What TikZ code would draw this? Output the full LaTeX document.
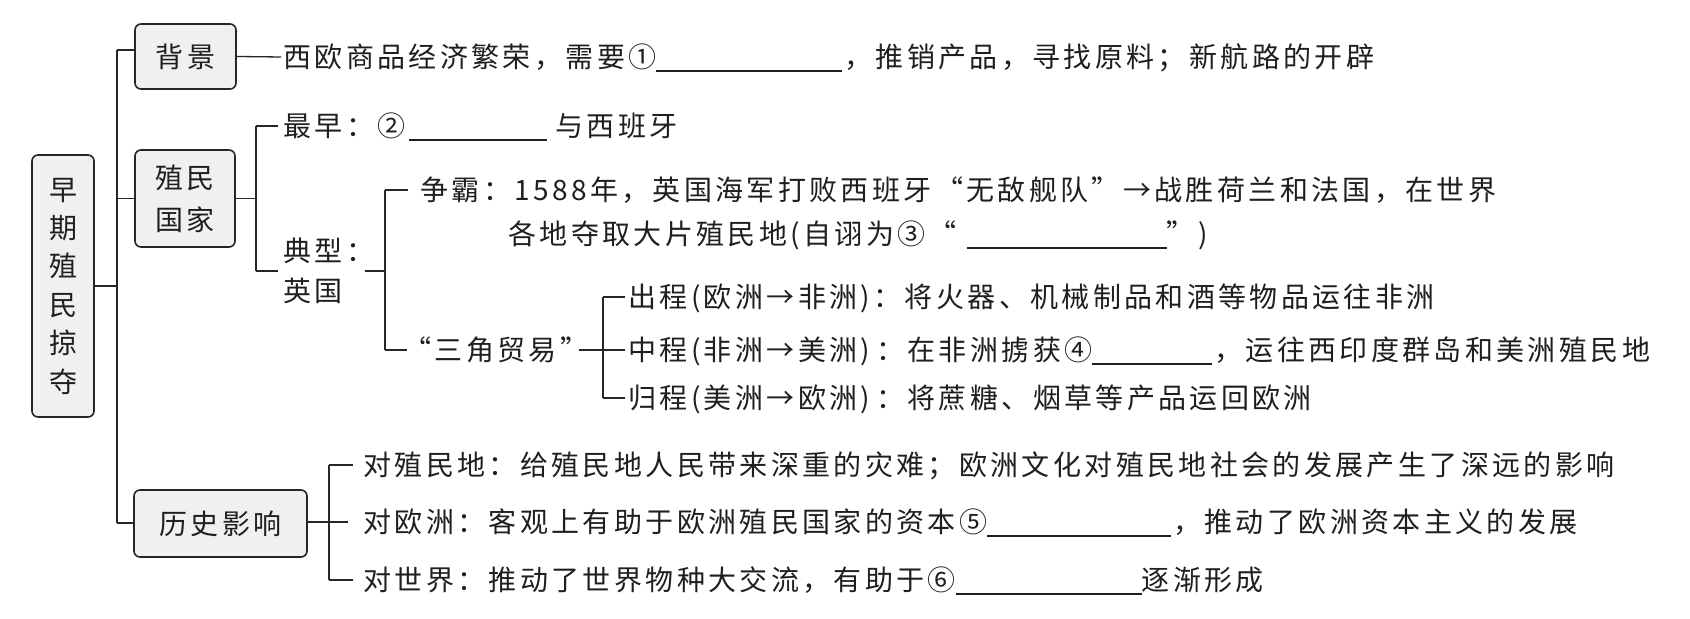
\documentclass[tikz,border=0pt]{standalone}
\usepackage{fontspec}
\setmainfont{Noto Sans CJK SC}[LetterSpace=12]
\newcommand{\blankline}[1]{\rule[-2pt]{#1}{0.6pt}}
\begin{document}
\begin{tikzpicture}[x=0.5pt,y=-0.5pt,
  every node/.style={font=\fontsize{14pt}{20pt}\selectfont, text=black!88},
  box/.style={draw=black!85, line width=0.8pt, rounded corners=3pt, fill=gray!12, inner sep=0pt, align=center},
  row/.style={anchor=west, inner sep=0pt, text height=12.3pt, text depth=1.7pt},
  link/.style={line width=0.65pt, draw=black!85}]
\fill[white] (0,0) rectangle (1690,619);
\useasboundingbox (0,0) rectangle (1690,619);

% boxes
\node[box, minimum width=31pt, minimum height=131pt, font=\fontsize{14pt}{19.2pt}\selectfont] (root) at (63,286) {早\\期\\殖\\民\\掠\\夺};
\node[box, minimum width=50.5pt, minimum height=32.5pt] (bg) at (185.5,56.5) {背景};
\node[box, minimum width=50pt, minimum height=48.5pt, font=\fontsize{14pt}{21pt}\selectfont] (cs) at (185,198.5) {殖民\\国家};
\node[box, minimum width=86.5pt, minimum height=33.5pt] (ls) at (220.5,523.5) {历史影响};

% text rows
\node[row] (r1) at (283,57) {西欧商品经济繁荣，需要①\blankline{93pt}\hspace{1pt}，推销产品，寻找原料；新航路的开辟};
\node[row] (zz) at (283,126) {最早：②\hspace{2pt}\blankline{69pt}\hspace{4pt}与西班牙};
\node[anchor=west, inner sep=0pt, align=left] (dx) at (283,271) {典型：\\英国};
\node[row] (zb) at (420,190) {争霸：1588年，英国海军打败西班牙“无敌舰队”→战胜荷兰和法国，在世界};
\node[row] (gd) at (508,234) {各地夺取大片殖民地(自诩为③“\hspace{5pt}\blankline{100pt}”)};
\node[row] (sj) at (403,350) {“三角贸易”};
\node[row] (cc) at (628,297) {出程(欧洲→非洲)：将火器、机械制品和酒等物品运往非洲};
\node[row] (zc) at (628,350) {中程(非洲→美洲)\hspace{3pt}：在非洲掳获④\blankline{60pt}\hspace{1pt}，运往西印度群岛和美洲殖民地};
\node[row] (gc) at (628,398) {归程(美洲→欧洲)\hspace{3pt}：将蔗糖、烟草等产品运回欧洲};
\node[row] (dz) at (363,465) {对殖民地：给殖民地人民带来深重的灾难；欧洲文化对殖民地社会的发展产生了深远的影响};
\node[row] (do) at (363,522) {对欧洲：客观上有助于欧洲殖民国家的资本⑤\blankline{92pt}\hspace{1pt}，推动了欧洲资本主义的发展};
\node[row] (ds) at (363,580) {对世界：推动了世界物种大交流，有助于⑥\blankline{93pt}逐渐形成};

% bracket coordinates
\coordinate (t0) at (117,286);
\coordinate (t1) at (117,50);
\coordinate (t2) at (117,198.5);
\coordinate (t3) at (117,523);
\coordinate (b1m) at (256,198.5);
\coordinate (b1t) at (256,126);
\coordinate (b1b) at (256,271);
\coordinate (b2m) at (385,271);
\coordinate (b2t) at (385,190);
\coordinate (b2b) at (385,350);
\coordinate (b3m) at (603,350);
\coordinate (b3t) at (603,297);
\coordinate (b3b) at (603,398);
\coordinate (b4m) at (329,522);
\coordinate (b4t) at (329,465);
\coordinate (b4b) at (329,580);

% connectors
\draw[link] (root.east |- t0) -- (t0);
\draw[link] (t1) -- (t3);
\draw[link] (t1) -- (bg.west |- t1);
\draw[link] (t2) -- (cs.west |- t2);
\draw[link] (t3) -- (ls.west |- t3);
\draw[link] (bg.east) -- ([xshift=-1pt]r1.west);
\draw[link] (cs.east |- b1m) -- (b1m);
\draw[link] (b1t) -- (b1b);
\draw[link] (b1t) -- ([xshift=-2.5pt]zz.west);
\draw[link] (b1b) -- ([xshift=-2.5pt]dx.west);
\draw[link] ([xshift=-5pt]dx.east |- b2m) -- (b2m);
\draw[link] (b2t) -- (b2b);
\draw[link] (b2t) -- ([xshift=-6pt]zb.west);
\draw[link] (b2b) -- ([xshift=2pt]sj.west);
\draw[link] ([xshift=-5pt]sj.east) -- ([xshift=-1.5pt]zc.west);
\draw[link] (b3t) -- (b3b);
\draw[link] (b3t) -- ([xshift=-1.5pt]cc.west);
\draw[link] (b3b) -- ([xshift=-1.5pt]gc.west);
\draw[link] (ls.east |- b4m) -- ([xshift=-7.5pt]do.west);
\draw[link] (b4t) -- (b4b);
\draw[link] (b4t) -- ([xshift=-5pt]dz.west);
\draw[link] (b4b) -- ([xshift=-5pt]ds.west);
\end{tikzpicture}
\end{document}
